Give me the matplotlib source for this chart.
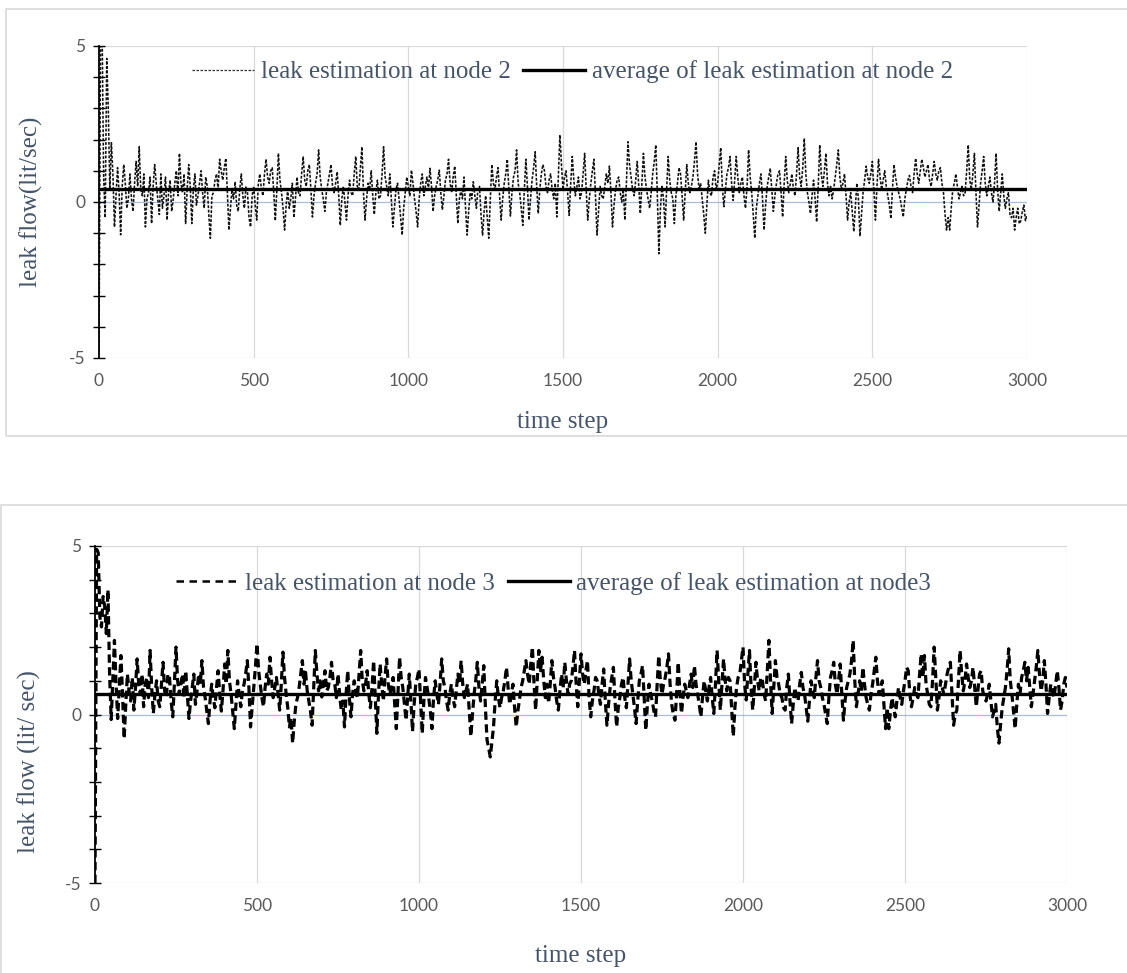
import numpy as np
import matplotlib.pyplot as plt
from matplotlib.patches import Rectangle
from matplotlib.lines import Line2D
from matplotlib.ticker import MultipleLocator

plt.rcParams["axes.unicode_minus"] = False

# --------------------------------------------------------------------------- #
# values (one sample every 5 time steps)
# --------------------------------------------------------------------------- #
time_step = list(range(0, 3001, 5))

leak_node2 = [
    -4.8, 5.2, 5.5, 0.8, -0.5, 4.6, 3.0, 0.4, 1.9, 0.9, -0.8, 0.2, 1.1, 0.3, -1.05, 0.5, 1.2, 0.6, -0.2, 0.1,
    0.9, 0.1, -0.3, 0.6, 1.3, 0.5, 1.77, 0.4, 0.2, 0.9, -0.8, 0.1, 0.3, 0.8, -0.69, 0.5, 1.2, 0.6, 0.1, -0.4,
    0.9, -0.2, 0.2, 0.8, -0.58, 0.3, 0.7, -0.3, 0.1, 0.6, 1.0, 0.2, 1.56, 0.6, 0.3, 0.9, -0.69, 0.4, 1.2, 0.5,
    -0.69, 0.4, 0.9, -0.1, 0.2, 0.6, 1.0, 0.3, -0.2, 0.8, 0.5, -0.4, -1.16, 0.2, 0.3, 0.7, 0.9, 0.4, 1.37, 1.0,
    0.7, 1.1, 1.4, 0.3, -0.9, -0.2, 0.4, 0.1, 0.65, -0.1, -0.3, 0.4, 0.9, 0.2, -0.2, 0.5, 0.3, -0.5, -0.8, 0.2,
    0.5, -0.1, -0.58, 0.6, 0.9, 0.4, 0.2, 0.9, 1.37, 0.8, 0.6, 1.0, 1.1, 0.3, -0.6, 0.4, 1.56, 0.7, 0.3, -0.2,
    -0.9, -0.1, 0.4, -0.2, 0.1, 0.6, -0.5, 0.1, 0.8, 0.3, 0.2, 0.9, 1.46, 0.7, 0.5, 1.0, 1.2, 0.4, -0.48, 0.2,
    0.6, 0.9, 1.67, 0.8, 0.4, 0.1, -0.3, 0.3, 0.6, 0.9, 1.2, 0.5, 0.3, 0.6, 0.97, 0.2, -0.75, 0.1, 0.5, 0.0,
    -0.58, 0.2, 0.7, 0.3, 0.2, 0.9, 1.46, 0.5, 0.4, 1.1, 1.77, 0.3, -0.58, 0.1, 0.6, 0.4, 1.0, 0.2, -0.4, 0.3,
    0.7, 0.1, 0.2, 0.9, 1.77, 0.8, 0.5, 0.2, 0.9, 0.1, -0.8, -0.2, 0.4, 0.6, 0.1, -0.5, -1.06, -0.2, 0.3, 0.8,
    0.5, 0.2, 1.02, 0.6, 0.1, -0.3, -0.8, 0.1, 0.6, 0.9, 0.2, 0.5, 0.8, 0.4, 1.08, 0.5, -0.3, 0.2, 0.5, 0.7,
    1.02, 0.3, -0.25, 0.2, 0.7, 0.9, 1.37, 0.6, 0.3, 0.8, 1.15, 0.2, -0.69, 0.1, 0.4, 0.1, 0.8, -0.2, -1.06, -0.3,
    0.3, 0.1, 0.65, 0.2, -0.2, 0.4, 0.5, -0.4, -1.06, -0.3, 0.2, -0.5, -1.16, 0.1, 1.2, 0.6, 0.4, 0.8, 1.1, 0.2,
    -0.58, 0.1, 0.6, 0.9, 1.37, 0.4, -0.45, 0.3, 0.8, 1.0, 1.67, 0.6, 0.3, -0.2, -0.75, 0.4, 1.37, 0.5, -0.58, 0.1,
    0.7, 1.1, 1.61, 0.5, -0.37, 0.4, 0.9, 1.2, 1.0, 0.5, 0.3, 0.7, 0.9, 0.4, 0.1, 0.6, -0.48, 0.8, 2.15, 1.2,
    0.4, 0.8, 1.0, 0.3, -0.43, 0.6, 1.46, 0.7, 0.2, 0.5, 0.8, 0.1, 0.3, 0.9, 1.56, 0.4, -0.58, 0.1, 0.6, 1.0,
    1.37, 0.2, -1.06, -0.3, 0.5, 0.2, 0.1, 0.5, 0.9, 0.6, 1.15, 0.3, -0.8, -0.1, 0.4, 0.7, 0.8, 0.3, 0.0, 0.4,
    -0.58, 0.6, 1.93, 1.2, 0.8, 0.4, 0.2, 0.7, 1.3, 0.5, -0.37, 0.6, 1.56, 0.8, 0.4, 0.1, -0.2, 0.3, 0.9, 1.3,
    1.83, 0.2, -1.66, -0.2, 0.5, 0.1, -0.8, 0.4, 1.46, 0.7, 0.3, 0.1, -0.69, 0.2, 0.6, 1.1, 0.9, 0.2, -0.58, 0.3,
    1.2, 0.6, 0.3, 0.5, 0.8, 1.3, 1.93, 0.9, 0.4, 0.6, 0.1, -0.4, -1.0, -0.1, 0.7, 0.3, 0.2, 0.8, 1.0, 0.4,
    0.6, 1.2, 1.74, 0.5, -0.15, 0.4, 0.9, 1.1, 1.46, 0.6, 0.05, 0.7, 1.46, 0.8, 0.3, 0.6, 0.8, 0.2, -0.2, 0.5,
    1.67, 0.8, 0.3, -0.4, -1.16, -0.2, 0.2, 0.6, 0.9, 0.1, -0.9, -0.1, 0.5, 0.8, 1.08, 0.4, -0.3, 0.2, 0.6, 0.9,
    1.0, 0.3, -0.48, 0.6, 1.46, 0.7, 0.3, 0.6, 0.9, 0.4, 0.2, 0.9, 1.74, 0.8, 0.5, 1.1, 2.04, 0.9, 0.3, 0.0,
    -0.37, 0.2, 0.7, 0.1, -0.64, 0.5, 1.83, 0.9, 0.5, 1.0, 1.56, 0.6, 0.2, 0.5, 0.1, 0.4, 0.8, 1.2, 1.67, 0.8,
    0.4, 0.6, 0.9, 0.2, -0.58, 0.0, 0.3, -0.3, -0.95, -0.2, 0.6, 0.1, -1.1, -0.4, 0.3, 0.7, 1.15, 0.8, 0.6, 0.9,
    1.3, 0.4, -0.58, 0.5, 1.37, 0.8, 0.4, 0.7, 1.0, 0.5, 0.2, -0.1, -0.53, 0.4, 1.2, 0.8, 0.5, 0.3, 0.1, -0.2,
    -0.48, 0.1, 0.4, 0.7, 0.85, 0.5, 0.3, 0.9, 1.4, 0.9, 0.6, 1.0, 1.37, 1.1, 0.8, 1.0, 1.2, 0.7, 0.5, 0.9,
    1.3, 0.9, 0.7, 1.0, 1.1, 0.6, 0.3, -0.4, -0.9, -0.5, -0.9, -0.2, 0.4, 0.6, 0.9, 0.5, 0.1, 0.3, 0.5, 0.2,
    0.3, 1.0, 1.83, 0.7, 0.4, 0.9, 1.56, 0.3, -0.8, -0.1, 0.6, 1.0, 1.46, 0.6, 0.2, 0.5, 0.8, 0.3, 0.0, 0.6,
    1.56, 0.4, -0.3, 0.3, 0.9, 0.2, -0.2, 0.1, 0.3, -0.4, -0.5, -0.2, -0.9, -0.5, -0.2, -0.7, -0.6, -0.3, -0.1, -0.6,
    -0.4,
]

leak_node3 = [
    -5.0, 4.9, 4.8, 2.9, 2.6, 3.5, 3.2, 2.4, 3.7, 1.2, -0.15, 1.0, 2.2, 0.9, -0.12, 0.8, 1.75, 0.6, -0.72, 0.3,
    1.2, 0.7, 0.4, 1.1, 0.13, 0.8, 1.65, 0.9, 0.6, 1.2, 0.23, 0.9, 1.1, 0.5, 1.9, 0.8, 0.03, 0.6, 1.0, 0.4,
    0.23, 0.9, 1.55, 0.7, 0.5, 1.2, 1.1, 0.4, -0.07, 0.9, 2.0, 1.0, 0.6, 0.9, 1.2, 0.5, 1.3, 0.6, -0.12, 0.4,
    0.8, 1.2, 0.3, 0.7, 1.2, 0.9, 1.6, 0.8, 0.5, 0.1, -0.27, 0.4, 0.9, 0.5, 0.2, 0.8, 1.3, 0.6, 0.1, 0.7,
    1.5, 0.9, 1.9, 1.0, 0.6, 0.1, -0.42, 0.3, 1.0, 0.6, 0.23, 0.7, 0.9, 1.2, 1.6, 0.8, -0.37, 0.2, 0.8, 1.4,
    2.1, 1.3, 0.9, 0.5, 0.23, 0.8, 1.2, 0.9, 1.7, 1.0, 0.5, 0.8, 1.1, 0.6, 0.13, 0.9, 1.85, 1.1, 0.6, 0.2,
    -0.37, -0.1, -0.85, -0.2, 0.3, 0.5, 0.8, 1.2, 1.6, 0.9, 1.25, 0.7, 0.4, 0.1, -0.32, 0.8, 1.9, 1.2, 0.7, 1.0,
    0.52, 0.9, 1.3, 0.7, 0.8, 1.1, 1.55, 1.0, 0.9, 0.5, 1.2, 0.6, 0.13, 0.4, -0.37, 0.6, 1.3, 0.5, -0.07, 0.6,
    1.0, 0.7, 0.5, 1.2, 1.9, 1.0, 0.7, 0.9, 1.3, 0.6, 0.2, 0.8, 1.6, 0.5, -0.56, 0.6, 1.5, 0.9, 0.4, 1.1,
    1.65, 0.9, 0.6, 0.8, 1.1, 0.3, -0.42, 0.6, 1.7, 1.1, 0.8, 0.3, -0.17, 0.5, 1.2, 0.4, -0.5, 0.3, 0.9, 1.1,
    1.35, 0.4, -0.56, 0.4, 1.1, 0.8, 0.5, 0.1, -0.42, 0.5, 1.0, 0.6, 0.3, 0.9, 1.65, 1.0, 0.8, 0.4, 0.13, 0.6,
    0.9, 0.5, 0.23, 0.7, 1.2, 0.9, 1.6, 0.9, 0.5, 0.7, 0.9, 0.1, -0.65, 0.0, 0.6, 1.0, 1.55, 0.8, 0.4, 0.9,
    1.45, 0.2, -0.76, -1.0, -1.26, -0.8, -0.37, 0.4, 1.0, 0.5, 0.2, 0.5, 0.7, 1.0, 1.4, 0.8, 0.3, 0.6, 0.9, 0.2,
    -0.37, 0.1, 0.43, 0.8, 1.0, 1.3, 1.6, 1.2, 0.9, 1.5, 2.0, 0.9, 0.13, 1.0, 1.9, 1.3, 1.7, 1.0, 0.5, 0.9,
    0.33, 0.9, 1.6, 1.1, 0.8, 0.4, 0.13, 0.7, 1.2, 0.8, 1.55, 1.0, 0.6, 0.9, 1.0, 1.4, 1.9, 0.9, 0.23, 1.0,
    1.8, 1.2, 0.9, 1.3, 1.6, 0.5, -0.07, 0.4, 0.7, 1.1, 1.0, 0.6, 0.3, 0.9, 1.35, 0.4, -0.32, 0.3, 0.8, 1.1,
    1.4, 0.4, -0.37, 0.2, 0.5, 0.9, 1.1, 0.5, 0.2, 0.9, 1.65, 1.0, 0.6, 0.2, -0.27, 0.4, 1.0, 1.2, 1.45, 0.5,
    -0.47, 0.3, 0.9, 0.6, 0.4, 0.1, -0.07, 0.9, 1.75, 1.0, 0.6, 0.9, 1.1, 1.4, 1.8, 0.9, 0.3, 0.0, -0.17, 0.6,
    1.55, 0.7, 0.03, 0.5, 0.9, 0.7, 0.5, 0.9, 1.2, 0.8, 1.45, 0.9, 0.6, 0.3, -0.07, 0.5, 1.0, 0.7, 0.4, 0.8,
    1.1, 0.5, 0.03, 0.9, 1.9, 1.0, 0.13, 0.9, 1.65, 1.0, 0.7, 1.1, 1.0, 0.2, -0.65, 0.2, 0.8, 1.1, 1.2, 1.6,
    2.0, 0.9, 0.43, 1.2, 1.9, 0.8, 0.13, 0.8, 1.55, 1.0, 0.7, 1.1, 1.0, 0.6, 0.4, 1.3, 2.2, 1.0, 0.03, 0.8,
    1.6, 1.1, 0.9, 0.6, 0.5, 0.2, 0.13, 0.8, 1.2, 0.4, -0.27, 0.3, 0.8, 0.5, 0.4, 0.9, 1.25, 0.8, 0.6, 0.2,
    -0.2, 0.4, 1.0, 0.7, 0.5, 1.1, 1.6, 1.0, 0.8, 0.5, 0.3, 0.0, -0.27, 0.5, 1.1, 1.3, 1.55, 0.9, 0.6, 1.0,
    1.5, 0.6, -0.17, 0.4, 0.8, 1.0, 1.2, 1.6, 2.2, 1.0, 0.23, 0.6, 1.0, 0.7, 1.4, 0.9, 0.5, 0.3, 0.13, 0.6,
    0.9, 1.3, 1.7, 1.0, 0.6, 0.8, 1.0, 0.3, -0.42, 0.2, -0.42, 0.1, 0.5, 0.2, -0.07, 0.4, 0.8, 0.5, 0.3, 0.7,
    1.0, 1.4, 1.3, 0.6, 0.23, 0.5, 0.8, 0.6, 0.5, 1.2, 1.8, 1.1, 1.75, 0.9, 0.6, 0.3, 0.23, 1.0, 2.0, 1.1,
    0.13, 0.5, 1.0, 0.8, 0.6, 0.9, 1.2, 1.4, 1.55, 0.6, -0.32, 0.0, 0.13, 1.0, 1.9, 1.2, 0.7, 1.0, 1.5, 1.1,
    0.8, 1.0, 1.4, 0.8, 0.23, 0.7, 1.2, 1.3, 0.7, 0.5, 0.4, 0.6, 0.9, 0.4, -0.07, 0.1, 0.3, -0.4, -0.85, -0.3,
    0.2, 0.5, 0.8, 1.3, 1.95, 1.0, 0.6, 0.1, -0.42, 0.3, 0.9, 0.6, 1.1, 1.3, 1.55, 1.0, 1.4, 0.8, 0.23, 0.6,
    1.0, 1.4, 1.9, 1.2, 0.7, 1.0, 1.6, 0.9, 0.03, 0.5, 0.9, 0.7, 0.5, 0.9, 1.3, 0.8, 0.13, 0.4, 0.9, 1.1,
    0.8,
]

avg_node2 = 0.43
avg_node3 = 0.6

x_ticks = [0, 500, 1000, 1500, 2000, 2500, 3000]
y_ticks = [-5, 0, 5]

# --------------------------------------------------------------------------- #
W, H = 1127, 973
SERIF = "Liberation Serif"
SANS = "Lato"
LABEL_COLOR = "#44546A"
TICK_COLOR = "#595959"
GRID_COLOR = "#D9D9D9"
ZERO_COLOR = "#A9BCD8"
FS_LAB = 18
FS_LEG = 18


def px_rect(x0, y0, x1, y1):
    """pixel box (top-left origin) -> figure fraction [l, b, w, h]"""
    return [x0 / W, 1 - y1 / H, (x1 - x0) / W, (y1 - y0) / H]


def frame(fig, x0, y0, x1, y1):
    l, b, w, h = px_rect(x0, y0, x1, y1)
    fig.patches.append(Rectangle((l, b), w, h, transform=fig.transFigure,
                                 facecolor="none", edgecolor=GRID_COLOR, lw=1.2))


def style_axis(ax, ylabel, ylab_x, ylab_y, xlab_y):
    ax.set_xlim(0, 3000)
    ax.set_ylim(-5, 5)
    ax.set_xticks(x_ticks)
    ax.set_yticks(y_ticks)
    ax.yaxis.set_minor_locator(MultipleLocator(1))
    for s in ("top", "right", "bottom"):
        ax.spines[s].set_visible(False)
    ax.spines["left"].set_color("black")
    ax.spines["left"].set_linewidth(1.3)
    ax.spines["left"].set_zorder(6)
    ax.tick_params(axis="x", length=0, pad=11, labelsize=12.5, labelcolor=TICK_COLOR)
    ax.tick_params(axis="y", which="both", direction="inout", length=8, width=1.0,
                   color="black", pad=6, labelsize=12.5, labelcolor=TICK_COLOR)
    for lab in ax.get_xticklabels() + ax.get_yticklabels():
        lab.set_family(SANS)
    # Excel-like gridlines: verticals every 500, horizontals at +-5
    for xv in x_ticks[1:]:
        ax.axvline(xv, color=GRID_COLOR, lw=0.9, zorder=0)
    for yv in (-5, 5):
        ax.axhline(yv, color=GRID_COLOR, lw=0.9, zorder=0)
    ax.axhline(0, color=ZERO_COLOR, lw=0.9, zorder=1)
    ax.set_ylabel(ylabel, family=SERIF, fontsize=FS_LAB, color=LABEL_COLOR)
    ax.yaxis.set_label_coords(ylab_x, ylab_y)
    ax.set_xlabel("time step", family=SERIF, fontsize=FS_LAB, color=LABEL_COLOR)
    ax.xaxis.set_label_coords(0.5, xlab_y)


fig = plt.figure(figsize=(W / 100, H / 100), dpi=100)

# top chart -------------------------------------------------------------- #
frame(fig, 6, 9, 1140, 436)
ax1 = fig.add_axes(px_rect(99, 46, 1027, 358))
dot2 = (0, (1.8, 1.0))
ax1.plot(time_step, leak_node2, color="#111111", lw=1.15, linestyle=dot2, zorder=3)
ax1.plot(time_step, np.full(len(time_step), avg_node2), color="black", lw=2.4, zorder=4)
style_axis(ax1, "leak flow(lit/sec)", -0.06, 0.5, -0.17)
h1 = [Line2D([], [], color="#333333", lw=0.9, linestyle=(0, (2.0, 1.2))),
      Line2D([], [], color="black", lw=2.4)]
ax1.legend(h1, ["leak estimation at node 2", "average of leak estimation at node 2"],
           ncol=2, loc="center", bbox_to_anchor=(0.51, 0.917), frameon=False,
           prop={"family": SERIF, "size": FS_LEG}, labelcolor=LABEL_COLOR,
           handlelength=2.5, handletextpad=0.25, columnspacing=0.5)

# bottom chart ----------------------------------------------------------- #
frame(fig, 1, 505, 1140, 990)
ax2 = fig.add_axes(px_rect(95, 546, 1067, 883))
dash3 = (0, (2.6, 1.4))
ax2.plot(time_step, leak_node3, color="black", lw=2.3, linestyle=dash3, zorder=3)
ax2.plot(time_step, np.full(len(time_step), avg_node3), color="black", lw=2.4, zorder=4)
style_axis(ax2, "leak flow (lit/ sec)", -0.056, 0.36, -0.184)
h2 = [Line2D([], [], color="black", lw=1.8, linestyle=(0, (3.0, 2.2))),
      Line2D([], [], color="black", lw=2.4)]
ax2.legend(h2, ["leak estimation at node 3", "average of leak estimation at node3"],
           ncol=2, loc="center", bbox_to_anchor=(0.472, 0.89), frameon=False,
           prop={"family": SERIF, "size": FS_LEG}, labelcolor=LABEL_COLOR,
           handlelength=2.5, handletextpad=0.25, columnspacing=0.5)

fig.savefig("out.png", dpi=100)
